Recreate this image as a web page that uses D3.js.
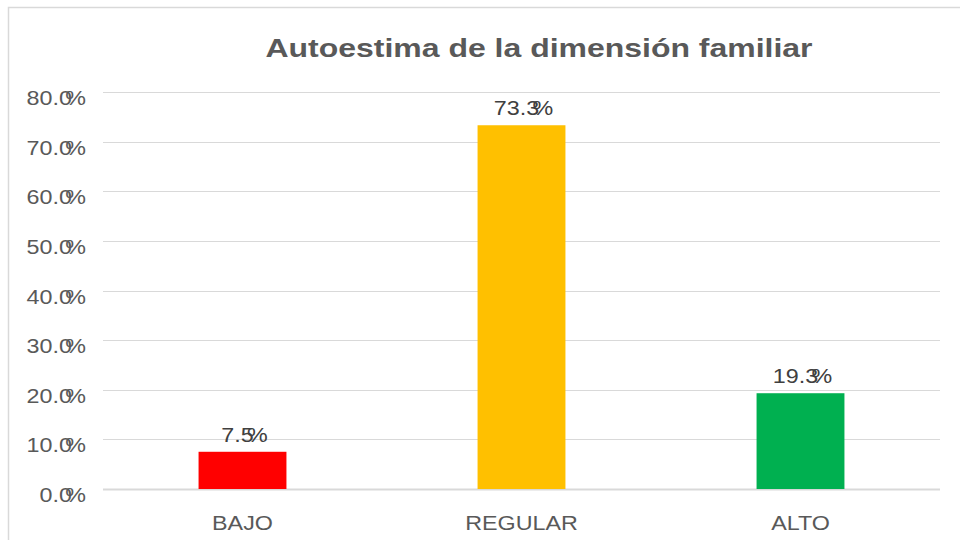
<!DOCTYPE html>
<html lang="es">
<head>
<meta charset="UTF-8">
<title>Autoestima de la dimensión familiar</title>
<script src="https://d3js.org/d3.v7.min.js"></script>
<style>
  body { margin: 0; background: #fff; }
  svg text { font-family: "Liberation Sans", Arial, sans-serif; }
</style>
</head>
<body>
<script>
// data
const categories = ["BAJO", "REGULAR", "ALTO"];
const values = [0.075, 0.733, 0.193];
const barColors = ["#FF0000", "#FFC000", "#00B050"];
const yTicks = [0, 0.1, 0.2, 0.3, 0.4, 0.5, 0.6, 0.7, 0.8];
const chartTitle = "Autoestima de la dimensión familiar";

const w = 960, h = 540;
const plotLeft = 103, plotRight = 940, plotTop = 92, plotBottom = 489;
const stretch = 1.11; // text in the source is a bit wider than Arial

const svg = d3.select("body").append("svg")
    .attr("width", w)
    .attr("height", h);

// outer chart frame
svg.append("rect")
    .attr("x", 8.5).attr("y", 7.5)
    .attr("width", 1000).attr("height", 600)
    .attr("fill", "#fff")
    .attr("stroke", "#d9d9d9")
    .attr("stroke-width", 1.5);

const x = d3.scaleBand()
    .domain(categories)
    .range([plotLeft, plotRight])
    .paddingInner(0.685)
    .paddingOuter(0.3425);

const y = d3.scaleLinear()
    .domain([0, 0.8])
    .range([plotBottom, plotTop]);

const pct = d3.format(".1f");

// gridlines + y labels
const yAxis = svg.append("g").attr("class", "y-axis");
yAxis.selectAll("line")
    .data(yTicks)
    .enter().append("line")
    .attr("x1", plotLeft).attr("x2", plotRight)
    .attr("y1", d => Math.round(y(d)) + 0.5)
    .attr("y2", d => Math.round(y(d)) + 0.5)
    .attr("stroke", "#d9d9d9")
    .attr("stroke-width", d => d === 0 ? 2 : 1);

const tickText = yAxis.selectAll("text")
    .data(yTicks)
    .enter().append("text")
    .attr("transform", d => `translate(86,${y(d) + 13}) scale(${stretch},1)`)
    .attr("text-anchor", "end")
    .attr("fill", "#595959")
    .style("font-size", "21px");
tickText.append("tspan").text(d => pct(d * 100));
tickText.append("tspan").attr("dx", -6).text("%");

// bars
svg.selectAll("rect.bar")
    .data(values)
    .enter().append("rect")
    .attr("class", "bar")
    .attr("x", (d, i) => x(categories[i]))
    .attr("y", d => y(d))
    .attr("width", x.bandwidth())
    .attr("height", d => plotBottom - y(d))
    .attr("fill", (d, i) => barColors[i]);

// value labels
const valText = svg.selectAll("text.val")
    .data(values)
    .enter().append("text")
    .attr("class", "val")
    .attr("transform", (d, i) =>
        `translate(${x(categories[i]) + x.bandwidth() / 2 + 2},${y(d) - 10}) scale(${stretch},1)`)
    .attr("text-anchor", "middle")
    .attr("fill", "#404040")
    .style("font-size", "21px");
valText.append("tspan").text(d => pct(d * 100));
valText.append("tspan").attr("dx", -6).text("%");

// category labels
svg.selectAll("text.cat")
    .data(categories)
    .enter().append("text")
    .attr("class", "cat")
    .attr("transform", d => `translate(${x(d) + x.bandwidth() / 2},530) scale(${stretch},1)`)
    .attr("text-anchor", "middle")
    .attr("fill", "#595959")
    .style("font-size", "21px")
    .text(d => d);

// title
svg.append("text")
    .attr("transform", "translate(539,57) scale(1.23,1)")
    .attr("text-anchor", "middle")
    .attr("fill", "#595959")
    .style("font-size", "26px")
    .style("font-weight", "bold")
    .text(chartTitle);
</script>
</body>
</html>
